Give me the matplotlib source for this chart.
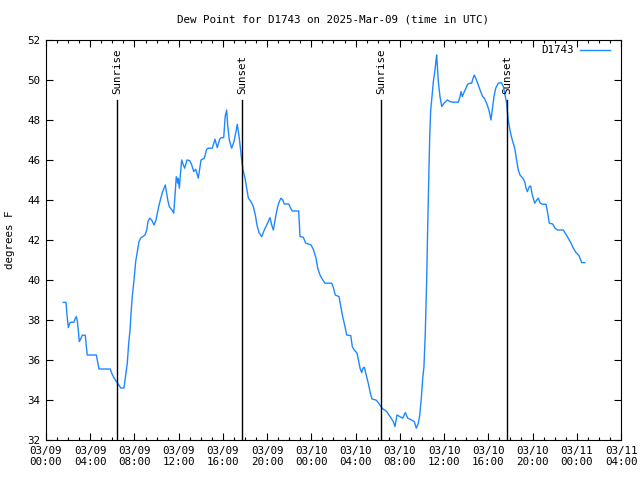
import numpy as np
import pandas as pd
import matplotlib
matplotlib.use('Agg')
import matplotlib.pyplot as plt
import matplotlib.dates as mdates

plt.rcParams['font.family'] = ['DejaVu Sans Mono']

station = 'D1743'
base = pd.Timestamp('2025-03-09 00:00')

# hours after 03/09 00:00 UTC, dew point in F
hours = [1.56, 1.81, 1.90, 2.02, 2.14, 2.26, 2.53, 2.65, 2.74, 2.83, 2.92, 3.01, 3.17, 3.28, 3.55,
         3.68, 3.73, 4.55, 4.64, 4.79, 5.81, 5.94, 6.12, 6.36, 6.54, 6.76, 7.05, 7.21, 7.35, 7.48,
         7.60, 7.71, 7.80, 7.96, 8.11, 8.26, 8.41, 8.56, 8.95, 9.11, 9.22, 9.38, 9.56, 9.77, 9.95,
         10.16, 10.34, 10.55, 10.79, 11.01, 11.15, 11.42, 11.55, 11.67, 11.78, 11.91, 11.96, 12.06,
         12.15, 12.27, 12.42, 12.54, 12.75, 13.00, 13.18, 13.36, 13.54, 13.77, 14.02, 14.32, 14.53,
         14.68, 15.04, 15.28, 15.49, 15.71, 15.85, 16.07, 16.21, 16.34, 16.43, 16.58, 16.79, 17.00,
         17.21, 17.30, 17.48, 17.61, 17.73, 17.82, 18.00, 18.15, 18.30, 18.54, 18.75, 18.93, 19.08,
         19.26, 19.51, 19.74, 19.96, 20.26, 20.41, 20.56, 20.77, 20.95, 21.10, 21.25, 21.41, 21.55,
         21.95, 22.13, 22.27, 22.85, 22.97, 23.27, 23.49, 23.78, 23.97, 24.17, 24.42, 24.57, 24.78,
         24.93, 25.23, 25.84, 25.98, 26.16, 26.50, 26.65, 26.83, 27.04, 27.19, 27.56, 27.70, 27.88,
         28.13, 28.28, 28.40, 28.55, 28.67, 28.79, 29.00, 29.18, 29.33, 29.48, 29.84, 30.09, 30.39,
         30.81, 31.11, 31.41, 31.56, 31.74, 31.99, 32.26, 32.49, 32.71, 33.07, 33.31, 33.49, 33.67,
         33.80, 33.94, 34.07, 34.18, 34.30, 34.43, 34.52, 34.61, 34.70, 34.79, 34.88, 35.03, 35.18,
         35.27, 35.33, 35.48, 35.63, 35.79, 35.99, 36.29, 36.54, 36.83, 37.29, 37.44, 37.53, 37.65,
         37.83, 37.98, 38.14, 38.34, 38.50, 38.59, 38.73, 38.86, 39.04, 39.25, 39.49, 39.64, 39.91,
         40.09, 40.24, 40.40, 40.51, 40.67, 40.90, 41.18, 41.36, 41.54, 41.66, 41.72, 41.78, 41.90,
         42.05, 42.21, 42.39, 42.53, 42.71, 42.87, 43.11, 43.29, 43.41, 43.53, 43.71, 43.83, 43.98,
         44.20, 44.38, 44.52, 44.70, 44.88, 45.22, 45.37, 45.52, 45.82, 46.03, 46.24, 46.78, 46.96,
         47.23, 47.48, 47.69, 47.93, 48.20, 48.45, 48.74]
dewpt = [38.88, 38.88, 38.25, 37.62, 37.84, 37.89, 37.89, 38.09, 38.17, 37.97, 37.50, 36.92, 37.09, 37.24, 37.24,
         36.50, 36.25, 36.25, 36.00, 35.55, 35.55, 35.34, 35.14, 34.92, 34.79, 34.60, 34.60, 35.25, 35.84, 36.84,
         37.50, 38.50, 39.17, 40.00, 40.92, 41.42, 41.92, 42.09, 42.25, 42.50, 42.92, 43.09, 43.00, 42.75, 43.00,
         43.59, 44.00, 44.42, 44.75, 44.00, 43.67, 43.47, 43.34, 44.25, 45.17, 44.84, 45.09, 44.59,
         45.25, 46.00, 45.75, 45.59, 46.00, 45.97, 45.75, 45.42, 45.54, 45.09, 46.00, 46.09, 46.54,
         46.59, 46.59, 47.04, 46.62, 47.04, 47.12, 47.12, 48.20, 48.50, 47.75, 47.00, 46.59, 46.92,
         47.50, 47.79, 47.09, 46.42, 45.84, 45.50, 45.09, 44.59, 44.09, 43.92, 43.67, 43.25, 42.75,
         42.37, 42.17, 42.50, 42.75, 43.12, 42.75, 42.50, 43.17, 43.67, 43.92, 44.09, 44.00, 43.80,
         43.80, 43.59, 43.45, 43.45, 42.17, 42.14, 41.84, 41.79, 41.75, 41.54, 41.09, 40.59, 40.25,
         40.09, 39.84, 39.84, 39.64, 39.25, 39.17, 38.70, 38.17, 37.67, 37.25, 37.22, 36.67, 36.50,
         36.34, 35.92, 35.59, 35.37, 35.59, 35.64, 35.17, 34.75, 34.34, 34.05, 34.00, 33.84, 33.59,
         33.42, 33.17, 32.92, 32.67, 33.25, 33.17, 33.09, 33.37, 33.09, 33.00, 32.92, 32.59, 32.84,
         33.25, 34.09, 35.09, 35.67, 37.34, 40.09, 42.67, 44.92, 47.17, 48.50, 49.00, 49.92, 50.50,
         51.00, 51.25, 49.92, 49.17, 48.67, 48.84, 49.00, 48.92, 48.89, 48.89, 49.17, 49.42, 49.17,
         49.42, 49.59, 49.79, 49.84, 49.84, 50.04, 50.25, 50.09, 49.84, 49.50, 49.17, 49.09, 48.75,
         48.42, 48.00, 48.67, 49.17, 49.59, 49.84, 49.87, 49.67, 49.17, 48.84, 48.42, 48.09, 47.67,
         47.25, 46.92, 46.59, 46.09, 45.50, 45.25, 45.09, 44.92, 44.59, 44.42, 44.67, 44.70, 44.25,
         43.84, 44.00, 44.09, 43.84, 43.79, 43.79, 43.34, 42.84, 42.80, 42.59, 42.50, 42.50, 42.34,
         42.09, 41.84, 41.59, 41.37, 41.22, 40.87, 40.87]

sun_hours = [6.42, 17.73, 30.30, 41.69]
sun_labels = ['Sunrise', 'Sunset', 'Sunrise', 'Sunset']

times = base + pd.to_timedelta(hours, unit='h')

fig = plt.figure(figsize=(6.4, 4.8), dpi=100)
ax = fig.add_axes([46/640., 40/480., 575/640., 400/480.])

ax.plot(times, dewpt, color='#1e88ff', lw=1.0, label=station)

for h, lab in zip(sun_hours, sun_labels):
    t = base + pd.Timedelta(hours=h)
    ax.axvline(t, ymin=0, ymax=0.85, color='k', lw=1.0)
    ax.text(t, 0.865, lab, transform=ax.get_xaxis_transform(), rotation=90,
            ha='center', va='bottom', fontsize=7.8)

ax.set_xlim(base, base + pd.Timedelta(hours=52))
ax.set_ylim(32, 52)
ax.set_yticks(np.arange(32, 53, 2))
ax.xaxis.set_major_locator(mdates.HourLocator(byhour=range(0, 24, 4)))
ax.xaxis.set_minor_locator(mdates.HourLocator())
ax.xaxis.set_major_formatter(mdates.DateFormatter('%m/%d\n%H:%M'))

ax.tick_params(which='both', direction='in', top=True, right=True, labelsize=7.8, width=0.8)
ax.tick_params(which='major', length=5, pad=4)
ax.tick_params(which='minor', length=2.5)
for s in ax.spines.values():
    s.set_linewidth(0.8)

fig.text(333/640., 1 - 19/480., 'Dew Point for D1743 on 2025-Mar-09 (time in UTC)',
         ha='center', va='center', fontsize=7.8)
fig.text(10/640., 0.5, 'degrees F', rotation=90, ha='center', va='center', fontsize=7.8)

ax.legend(loc='upper right', frameon=False, markerfirst=False, fontsize=7.8,
          handlelength=2.8, handletextpad=0.5, borderaxespad=0.2, bbox_to_anchor=(0.992, 1.003))

plt.savefig('out.png', dpi=100)
